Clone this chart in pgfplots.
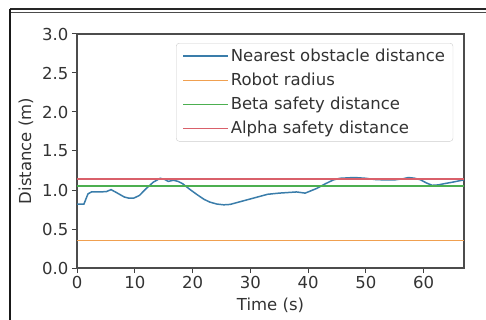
\documentclass[border=0pt]{standalone}
\usepackage{fontspec}
\setmainfont{DejaVu Sans}
\usepackage{pgfplots}
\pgfplotsset{compat=1.18}
\definecolor{tblue}{HTML}{3A7DAA}
\definecolor{torange}{HTML}{F0A050}
\definecolor{tgreen}{HTML}{4CAF50}
\definecolor{tred}{HTML}{D9606A}
\begin{document}
\begin{tikzpicture}[x=1pt,y=1pt]
\useasboundingbox (0,0) rectangle (486,-320);
\draw[line width=1.2pt, black!85] (9.5,-9) -- (486,-9);
\draw[line width=0.9pt, black!70] (9.5,-12) -- (486,-12);
\draw[line width=1.5pt, black!90] (10,-9) -- (10,-320);
\begin{axis}[
  at={(77pt,-34pt)}, anchor=north west,
  width=387pt, height=234pt, scale only axis,
  xmin=0, xmax=67, ymin=0, ymax=3,
  xtick={0,10,20,30,40,50,60},
  ytick={0,0.5,1,1.5,2,2.5,3},
  yticklabel style={/pgf/number format/.cd, fixed, fixed zerofill, precision=1},
  /pgf/number format/assume math mode=true,
  tick label style={font=\fontsize{16.5}{19}\selectfont, text=black!80},
  label style={font=\fontsize{16.5}{19}\selectfont, text=black!80},
  tick align=outside, tick pos=left,
  major tick length=5pt,
  every tick/.style={black!75, line width=1pt},
  axis line style={black!70, line width=1.1pt},
  xlabel={Time (s)}, ylabel={Distance (m)},
  xlabel style={yshift=-2pt},
  ylabel style={yshift=2pt},
  legend cell align=left,
  legend image code/.code={\draw[#1] (0pt,0pt) -- (34pt,0pt); \path (0pt,0pt) -- (45pt,0pt);},
  legend style={at={(0.256,0.9615)}, anchor=north west, draw=black!20,
    rounded corners=3pt, fill=white, font=\fontsize{16.5}{18}\selectfont,
    text=black!80, inner xsep=6pt, inner ysep=4pt,
    row sep=6pt},
]
\addplot[tblue, line width=1.5pt] coordinates {
(0,0.82) (1.2,0.82) (1.9,0.95) (2.5,0.975) (4,0.975) (5.1,0.98) (5.9,1.005)
(7,0.96) (8.2,0.91) (9,0.895) (9.8,0.895) (10.8,0.93) (12,1.02) (13.2,1.1)
(14.4,1.15) (15.2,1.135) (15.8,1.11) (16.7,1.125) (17.5,1.11) (18.3,1.08)
(19.5,1.01) (20.8,0.94) (22,0.88) (23,0.845) (24.2,0.82) (25.4,0.81)
(26.5,0.815) (28,0.845) (30,0.885) (31.5,0.915) (33,0.945) (35,0.96)
(38,0.975) (39.5,0.96) (40.5,0.99) (41.5,1.02) (43,1.08) (44.4,1.13)
(45.5,1.15) (48,1.16) (50,1.15) (51.5,1.135) (53,1.13) (55,1.13)
(56.5,1.145) (57.4,1.16) (58.5,1.15) (59.5,1.13) (60.5,1.09) (61.5,1.06)
(62.5,1.065) (63.5,1.08) (65,1.1) (67,1.13)
};
\addlegendentry{Nearest obstacle distance}
\addplot[torange, line width=1.5pt] coordinates {(0,0.35) (67,0.35)};
\addlegendentry{Robot radius}
\addplot[tgreen, line width=1.5pt] coordinates {(0,1.05) (67,1.05)};
\addlegendentry{Beta safety distance}
\addplot[tred, line width=1.5pt] coordinates {(0,1.14) (67,1.14)};
\addlegendentry{Alpha safety distance}
\end{axis}
\end{tikzpicture}
\end{document}
